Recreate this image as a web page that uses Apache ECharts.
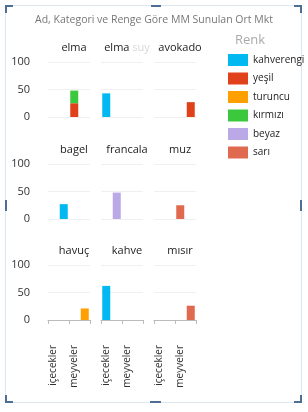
<!DOCTYPE html>
<html>
<head>
<meta charset="utf-8">
<script src="https://cdn.jsdelivr.net/npm/echarts@6/dist/echarts.min.js"></script>
<style>
  html, body { margin: 0; padding: 0; background: #fff; }
  #chart { width: 308px; height: 412px; }
</style>
</head>
<body>
<div id="chart"></div>
<script>
// kategoriler (x ekseni) - sadece biri atlanarak etiket gosteriliyor
const kategoriler = ['içecekler', 'fırın ürünleri', 'meyveler', 'sebzeler'];
// paneller
const urunler = ['elma', 'elma suyu', 'avokado', 'bagel', 'francala', 'muz', 'havuç', 'kahve', 'mısır'];
// her urunun kategori sirasi
const urunKategori = [2, 0, 3, 1, 1, 2, 3, 0, 3];
// renkler (legend)
const renkler = ['kahverengi', 'yeşil', 'turuncu', 'kırmızı', 'beyaz', 'sarı'];
const renkKodlari = ['#01B8F0', '#E0401A', '#FF9F00', '#3CC83C', '#BBA8E6', '#E06A50'];
// urun basina ortalama degerler, renge gore
const kahverengi = [0, 43, 0, 27, 0, 0, 0, 62, 0];
const yesil      = [25, 0, 27, 0, 0, 0, 0, 0, 0];
const turuncu    = [0, 0, 0, 0, 0, 0, 21, 0, 0];
const kirmizi    = [23, 0, 0, 0, 0, 0, 0, 0, 0];
const beyaz      = [0, 0, 0, 0, 48, 0, 0, 0, 0];
const sari       = [0, 0, 0, 0, 0, 25, 0, 0, 26];
const renkDegerleri = [kahverengi, yesil, turuncu, kirmizi, beyaz, sari];
const yTicks = [0, 50, 100];

const font = 'Open Sans';
const colLeft = [48, 101, 154];
const rowTop = [62, 164, 265];
const panelW = 42, panelH = 55;

const grids = [], xAxes = [], yAxes = [], titles = [], series = [];

urunler.forEach((u, i) => {
  const r = Math.floor(i / 3), c = i % 3;
  const last = r === 2;
  grids.push({ left: colLeft[c], top: rowTop[r], width: panelW, height: panelH });
  xAxes.push({
    gridIndex: i,
    type: 'category',
    data: kategoriler,
    offset: last ? 18 : 0,
    axisLine: { show: last, lineStyle: { color: '#bbb' } },
    axisTick: { show: last, length: 4, lineStyle: { color: '#bbb' } },
    axisLabel: {
      show: last, rotate: 90, interval: 1, margin: 7,
      fontFamily: font, fontSize: 10, color: '#333'
    }
  });
  yAxes.push({
    gridIndex: i,
    type: 'value',
    min: yTicks[0], max: yTicks[2], interval: 50,
    axisLine: { show: false },
    axisTick: { show: false },
    axisLabel: { show: c === 0, margin: 18, fontFamily: font, fontSize: 11, color: '#333' },
    splitLine: { lineStyle: { color: '#f0f0f0' } }
  });
  // panel basligi
  const baslik = u === 'elma suyu' ? '{a|elma}{b| suy}' : '{a|' + u + '}';
  titles.push({
    text: baslik,
    left: colLeft[c] + panelW / 2,
    top: rowTop[r] - 25,
    textAlign: 'center',
    textStyle: {
      fontWeight: 'normal',
      rich: {
        a: { fontFamily: font, fontSize: 11, fontWeight: 'normal', color: '#222' },
        b: { fontFamily: font, fontSize: 11, fontWeight: 'normal', color: '#d8d8d8' }
      }
    }
  });
  renkDegerleri.forEach((arr, k) => {
    if (!arr[i]) return;
    const data = kategoriler.map((_, j) => (j === urunKategori[i] ? arr[i] : '-'));
    series.push({
      type: 'bar',
      name: renkler[k],
      xAxisIndex: i,
      yAxisIndex: i,
      stack: 'p' + i,
      barWidth: 8,
      data: data,
      itemStyle: { color: renkKodlari[k] },
      animation: false
    });
  });
});

titles.push({
  text: 'Ad, Kategori ve Renge Göre MM Sunulan Ort Mkt',
  left: 'center', top: 10,
  textStyle: { fontFamily: font, fontSize: 10.5, fontWeight: 'normal', color: '#777' }
});
titles.push({
  text: 'Renk', left: 230, top: 29,
  textStyle: { fontFamily: font, fontSize: 13, fontWeight: 'normal', color: '#aaa' }
});

// secim cercevesi
const handle = '#4d6f96';
const frame = [
  { type: 'rect', shape: { x: 5.5, y: 5.5, width: 296, height: 397 }, style: { fill: 'none', stroke: '#dde6ef', lineWidth: 1 } },
  { type: 'rect', shape: { x: 5, y: 5, width: 8, height: 2 }, style: { fill: handle } },
  { type: 'rect', shape: { x: 5, y: 5, width: 2, height: 8 }, style: { fill: handle } },
  { type: 'rect', shape: { x: 294, y: 5, width: 8, height: 2 }, style: { fill: handle } },
  { type: 'rect', shape: { x: 300, y: 5, width: 2, height: 8 }, style: { fill: handle } },
  { type: 'rect', shape: { x: 5, y: 401, width: 8, height: 2 }, style: { fill: handle } },
  { type: 'rect', shape: { x: 5, y: 395, width: 2, height: 8 }, style: { fill: handle } },
  { type: 'rect', shape: { x: 294, y: 401, width: 8, height: 2 }, style: { fill: handle } },
  { type: 'rect', shape: { x: 300, y: 395, width: 2, height: 8 }, style: { fill: handle } },
  { type: 'rect', shape: { x: 151, y: 5, width: 10, height: 2 }, style: { fill: handle } },
  { type: 'rect', shape: { x: 150, y: 401, width: 11, height: 2 }, style: { fill: handle } },
  { type: 'rect', shape: { x: 5, y: 200, width: 2, height: 11 }, style: { fill: handle } },
  { type: 'rect', shape: { x: 300, y: 200, width: 2, height: 11 }, style: { fill: handle } }
];

const chart = echarts.init(document.getElementById('chart'));
chart.setOption({
  animation: false,
  title: titles,
  legend: {
    data: renkler,
    orient: 'vertical',
    left: 223, top: 49,
    itemWidth: 20, itemHeight: 12, itemGap: 6.5,
    icon: 'rect',
    selectedMode: false,
    textStyle: { fontFamily: font, fontSize: 10, color: '#222' }
  },
  grid: grids,
  xAxis: xAxes,
  yAxis: yAxes,
  series: series,
  graphic: frame
});
</script>
</body>
</html>
